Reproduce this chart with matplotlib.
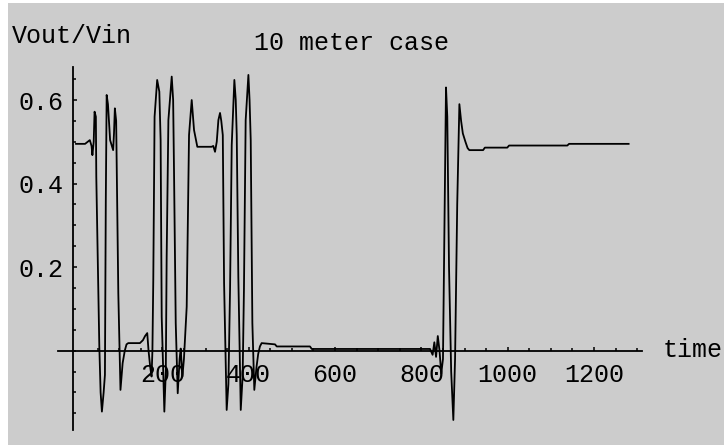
import numpy as np
import matplotlib.pyplot as plt
from matplotlib.patches import Rectangle
from matplotlib.ticker import FixedLocator

# transfer ratio Vout/Vin over time, 10 m line
time = [
    0, 21, 32, 36, 38, 41, 43, 46, 47, 54, 57, 60, 64, 67, 69, 71, 74, 79, 86, 88,
    90, 93, 98, 103, 108, 113, 117, 121, 148, 155, 160, 165, 168, 172, 175, 177,
    179, 182, 188, 193, 196, 198.5, 204.6, 208, 210, 214, 221.7, 225, 227, 231,
    235.6, 240, 242.5, 246.4, 250, 256.4, 261.8, 268, 273.4, 281, 314, 318, 322,
    326, 329.8, 333.6, 336.5, 340, 343, 349, 353, 356.8, 360.7, 366.8, 370, 372.3,
    376, 381.6, 386, 389, 393, 399.3, 402, 404.7, 408.5, 413, 418, 422, 426, 430,
    461, 465, 542, 546, 820, 826, 830, 834, 838, 842, 846, 850, 854, 857, 860, 864,
    869, 874, 878, 883, 888, 892, 896, 902, 907, 911, 943, 947, 999, 1003, 1138,
    1142, 1280,
]
ratio = [
    0.495, 0.495, 0.504, 0.49, 0.468, 0.50, 0.572, 0.560, 0.416, 0.010, -0.10,
    -0.146, -0.10, -0.058, 0.357, 0.612, 0.59, 0.504, 0.480, 0.52, 0.580, 0.55,
    0.137, -0.094, -0.03, 0.0, 0.015, 0.018, 0.018, 0.025, 0.035, 0.042, 0.0,
    -0.04, -0.062, 0.0, 0.169, 0.56, 0.648, 0.62, 0.504, 0.081, -0.146, -0.05,
    0.225, 0.552, 0.656, 0.60, 0.432, 0.066, -0.102, -0.02, 0.005, -0.062, -0.02,
    0.105, 0.516, 0.600, 0.528, 0.488, 0.488, 0.49, 0.476, 0.50, 0.552, 0.569,
    0.55, 0.516, 0.161, -0.142, -0.08, 0.145, 0.492, 0.648, 0.60, 0.516, 0.177,
    -0.142, -0.06, 0.145, 0.552, 0.66, 0.60, 0.504, 0.066, -0.094, -0.04, -0.008,
    0.01, 0.018, 0.015, 0.010, 0.010, 0.004, 0.004, -0.01, 0.02, -0.015, 0.035,
    0.0, -0.055, -0.02, 0.35, 0.63, 0.56, 0.2, -0.05, -0.166, -0.02, 0.35, 0.59,
    0.55, 0.52, 0.50, 0.485, 0.480, 0.480, 0.486, 0.486, 0.491, 0.491, 0.495,
    0.495,
]

x_ticks = [200, 400, 600, 800, 1000, 1200]
y_ticks = [0.2, 0.4, 0.6]

font = "Liberation Mono"
fsize = 18

fig = plt.figure(figsize=(7.24, 4.45), dpi=100)
fig.patch.set_facecolor("white")
fig.patches.append(Rectangle((8 / 724, 0), 1, 1 - 3 / 445, transform=fig.transFigure,
                             facecolor="#cccccc", edgecolor="none", zorder=-10))

W, H = 724, 445
ax = fig.add_axes([58 / W, (H - 430) / H, (642 - 58) / W, (430 - 67) / H])
ax.set_facecolor("none")
ax.plot(time, ratio, color="black", lw=1.3, zorder=3)

ax.set_xlim(-41.7, 1311)
ax.set_ylim(-0.19, 0.679)

for side in ["top", "right"]:
    ax.spines[side].set_visible(False)
ax.spines["bottom"].set_position(("data", 0))
ax.spines["left"].set_position(("data", -7))
for side in ["bottom", "left"]:
    ax.spines[side].set_linewidth(1.3)

ax.xaxis.set_major_locator(FixedLocator(x_ticks))
ax.xaxis.set_minor_locator(FixedLocator(np.arange(50, 1301, 50)))
ax.yaxis.set_major_locator(FixedLocator(y_ticks))
ax.yaxis.set_minor_locator(FixedLocator(np.arange(-0.15, 0.66, 0.05)))
ax.set_xticklabels([str(v) for v in x_ticks])
ax.set_yticklabels([f"{v:.1f}" for v in y_ticks])

ax.tick_params(which="both", direction="in", color="black", width=1.1)
ax.tick_params(which="major", length=3.2)
ax.tick_params(which="minor", length=2.4)
ax.tick_params(axis="x", which="major", pad=9)
ax.tick_params(axis="y", which="major", pad=7)
for lab in ax.get_xticklabels() + ax.get_yticklabels():
    lab.set_fontfamily(font)
    lab.set_fontsize(fsize)

fig.text(12 / W, 1 - 43 / H, "Vout/Vin", family=font, fontsize=fsize, va="baseline")
fig.text(352 / W, 1 - 50 / H, "10 meter case", family=font, fontsize=fsize,
         ha="center", va="baseline")
fig.text(663 / W, 1 - 357 / H, "time", family=font, fontsize=fsize, va="baseline")

fig.savefig("out.png", dpi=100)
